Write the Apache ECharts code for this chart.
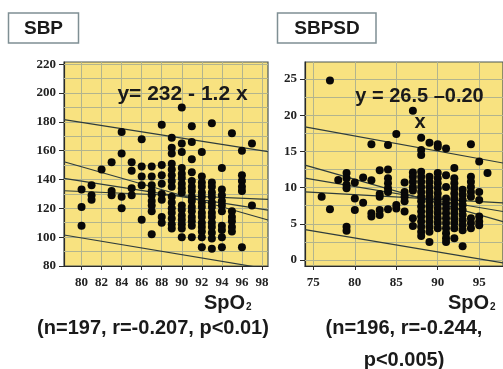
<!DOCTYPE html>
<html><head><meta charset="utf-8">
<script src="https://cdn.jsdelivr.net/npm/echarts@6/dist/echarts.min.js"></script>
<style>html,body{margin:0;padding:0;background:#fff}#c{width:503px;height:369px}</style>
</head><body><div id="c"></div>
<script>
// ---------- SBP panel data ----------
const sbpSpO2 = [80,81,82,83,84,85,86,87,88,89,90,91,92,93,94,95,96,97];
const sbpValues = [
 [133,121,108],
 [136,129,126],
 [147],
 [152,132,129],
 [173,158,128,120],
 [152,146,134,129],
 [168,149,142,136,112],
 [149,142,136,132,129,125,122,118,102],
 [178,150,143,137,130,126,114,110],
 [169,162,158,151,147,143,139,135,128,124,120,117,113,109,106],
 [190,165,159,148,144,141,137,134,131,122,119,115,112,109,106,100],
 [177,166,154,145,139,135,132,128,125,121,118,114,111,108,100],
 [159,142,138,135,131,128,124,121,117,114,110,107,104,100,93],
 [179,138,135,131,128,124,121,117,114,110,107,103,99,92],
 [148,133,129,125,122,118,108,105,100,93],
 [172,118,114,111,107,104],
 [160,143,139,135,132,93],
 [165,122]
];
const sbpLineX   = [78.25, 98.6];
const sbpFit     = [140.8, 118.8];
const sbpCIa     = [152.3, 111.9];
const sbpCIb     = [132.2, 126.2];
const sbpPIhigh  = [181.5, 159.3];
const sbpPIlow   = [101.5, 77.9];
const sbpXTicks  = [80,82,84,86,88,90,92,94,96,98];
const sbpYTicks  = [80,100,120,140,160,180,200,220];
const sbpYGrid   = [90,100,110,120,130,140,150,160,170,180,190,200,210,220];

// ---------- SBPSD panel data ----------
const sdSpO2 = [76,77,78,79,80,81,82,83,84,85,86,87,88,89,90,91,92,93,94,95,96];
const sdValues = [
 [8.75],
 [24.8,7.0],
 [11.05],
 [12.0,11.3,10.4,9.9,4.6,4.05],
 [10.7,8.5,6.9],
 [11.4,7.9],
 [16.0,11.0,6.45,6.0],
 [12.4,9.1,8.75,6.9,6.2],
 [15.9,12.5,11.3,10.6,9.9,9.4,7.0],
 [17.4,7.6,7.1],
 [10.7,9.4,8.75,8.1,6.7],
 [20.6,12.1,11.5,10.8,10.1,9.6,5.75,4.7],
 [16.9,15.2,14.5,12.2,11.5,10.8,10.1,9.4,8.75,8.1,7.4,6.7,6.0,5.3,4.6,3.9,3.3],
 [16.2,11.5,10.8,10.1,9.4,8.75,8.1,7.4,6.7,6.0,5.3,4.6,3.9,2.5],
 [16.0,15.6,12.0,11.3,10.6,9.9,9.2,8.5,7.8,7.1,6.45,5.75,5.1,4.4],
 [15.4,11.7,10.1,8.5,7.8,7.1,6.45,5.75,5.1,4.4,3.7,3.0,2.5],
 [12.7,11.3,10.6,9.9,9.2,8.5,7.8,7.1,6.45,5.75,5.1,4.4,3.0],
 [9.7,9.0,8.3,7.6,6.9,6.2,5.5,4.8,4.1,1.9],
 [16.0,11.5,10.8,10.1,9.4,8.75,5.75,5.1,4.4],
 [13.6,9.4,8.3,6.0,5.3,4.8],
 [12.0]
];
const sdLineX   = [73.99, 97.87];
const sdFit     = [11.3, 6.7];
const sdCIa     = [13.1, 5.3];
const sdCIb     = [9.4, 7.9];
const sdPIhigh  = [18.4, 13.4];
const sdPIlow   = [4.2, -0.4];
const sdXTicks  = [75,80,85,90,95];
const sdYTicks  = [0,5,10,15,20,25];
const sdYGrid   = [0,2.5,5,7.5,10,12.5,15,17.5,20,22.5,25];

// ---------- build ----------
function pts(xs, vals){ const out=[]; xs.forEach((x,i)=>vals[i].forEach(v=>out.push([x,v]))); return out; }
function seg(xs, ys){ return [[xs[0],ys[0]],[xs[1],ys[1]]]; }

const BG = '#F8E280', GRIDC = '#B2B48E', LINEC = '#2E3C3C', AX = '#2a2a2a';
const serif = {fontFamily:'"Liberation Serif", serif', fontWeight:'bold', fontSize:13, color:'#222'};

function xAx(gi, min, max, ticks){
  return {gridIndex:gi, type:'value', min, max,
    axisLine:{show:true, onZero:false, lineStyle:{color:AX, width:1.2}},
    axisTick:{show:true, length:4, customValues:ticks, lineStyle:{color:AX}},
    axisLabel:Object.assign({customValues:ticks, margin:10}, serif),
    splitLine:{show:false}};
}
function yAx(gi, min, max, ticks){
  return {gridIndex:gi, type:'value', min, max,
    axisLine:{show:true, onZero:false, lineStyle:{color:AX, width:1.2}},
    axisTick:{show:true, length:5, customValues:ticks, lineStyle:{color:AX}},
    axisLabel:Object.assign({customValues:ticks, margin:8}, serif),
    splitLine:{show:false}};
}
function gridSeries(i, xg, yg){
  return {type:'line', xAxisIndex:i, yAxisIndex:i, data:[], z:1, silent:true,
    markLine:{silent:true, z:1, symbol:['none','none'], label:{show:false},
      lineStyle:{color:GRIDC, width:1, type:'solid'}, emphasis:{disabled:true},
      data:[...xg.map(v=>({xAxis:v})), ...yg.map(v=>({yAxis:v}))]}};
}
function lineSeries(i, xs, ys){
  return {type:'line', xAxisIndex:i, yAxisIndex:i, data:seg(xs,ys), symbol:'none', z:2, silent:true,
    lineStyle:{color:LINEC, width:1.2}};
}
function scat(i, data){
  return {type:'scatter', xAxisIndex:i, yAxisIndex:i, data, symbolSize:8, z:3, silent:true,
    itemStyle:{color:'#080808', opacity:1}};
}

const txt = (x,y,text,font,align)=>({type:'text', x, y, silent:true, z:10,
  style:{text, font, fill:'#1a1a1a', align:align||'center', verticalAlign:'middle'}});
const SANS = '"Liberation Sans", Arial, sans-serif';

const chart = echarts.init(document.getElementById('c'), null, {renderer:'canvas'});
chart.setOption({
  animation:false,
  backgroundColor:'#ffffff',
  grid:[
    {left:64, top:62, width:204, height:204, show:true, backgroundColor:BG, borderColor:'#4a5656', borderWidth:1.2},
    {left:305, top:62, width:200, height:204, show:true, backgroundColor:BG, borderColor:'#4a5656', borderWidth:1.2}
  ],
  xAxis:[ xAx(0, 78.25, 98.6, sbpXTicks), xAx(1, 73.99, 97.87, sdXTicks) ],
  yAxis:[ yAx(0, 80, 221.5, sbpYTicks), yAx(1, -0.83, 27.35, sdYTicks) ],
  series:[
    gridSeries(0, sbpXTicks, sbpYGrid),
    gridSeries(1, sdXTicks, sdYGrid),
    lineSeries(0, sbpLineX, sbpPIhigh), lineSeries(0, sbpLineX, sbpCIa), lineSeries(0, sbpLineX, sbpFit),
    lineSeries(0, sbpLineX, sbpCIb), lineSeries(0, sbpLineX, sbpPIlow),
    lineSeries(1, sdLineX, sdPIhigh), lineSeries(1, sdLineX, sdCIa), lineSeries(1, sdLineX, sdFit),
    lineSeries(1, sdLineX, sdCIb), lineSeries(1, sdLineX, sdPIlow),
    scat(0, pts(sbpSpO2, sbpValues)),
    scat(1, pts(sdSpO2, sdValues))
  ],
  graphic:[
    {type:'rect', z:10, shape:{x:8.5, y:13, width:70, height:30}, style:{fill:'#fff', stroke:'#7f8f94', lineWidth:1.5}, silent:true},
    {type:'rect', z:10, shape:{x:277.5, y:13, width:98.5, height:30}, style:{fill:'#fff', stroke:'#7f8f94', lineWidth:1.5}, silent:true},
    txt(43.5, 29, 'SBP', 'bold 19px '+SANS),
    txt(327, 29, 'SBPSD', 'bold 19px '+SANS),
    txt(182.5, 94, 'y= 232 - 1.2 x', 'bold 21px '+SANS),
    txt(419.5, 96, 'y = 26.5 \u20130.20', 'bold 20px '+SANS),
    txt(420, 122, 'x', 'bold 20px '+SANS),
    txt(204, 303, 'SpO', 'bold 20px '+SANS, 'left'),
    txt(246, 307, '2', 'bold 10px '+SANS, 'left'),
    txt(448, 303, 'SpO', 'bold 20px '+SANS, 'left'),
    txt(490, 307, '2', 'bold 10px '+SANS, 'left'),
    txt(153, 328, '(n=197, r=-0.207, p<0.01)', 'bold 20px '+SANS),
    txt(404, 328, '(n=196, r=-0.244,', 'bold 20px '+SANS),
    txt(404, 360, 'p<0.005)', 'bold 20px '+SANS)
  ]
});
</script>
</body></html>
